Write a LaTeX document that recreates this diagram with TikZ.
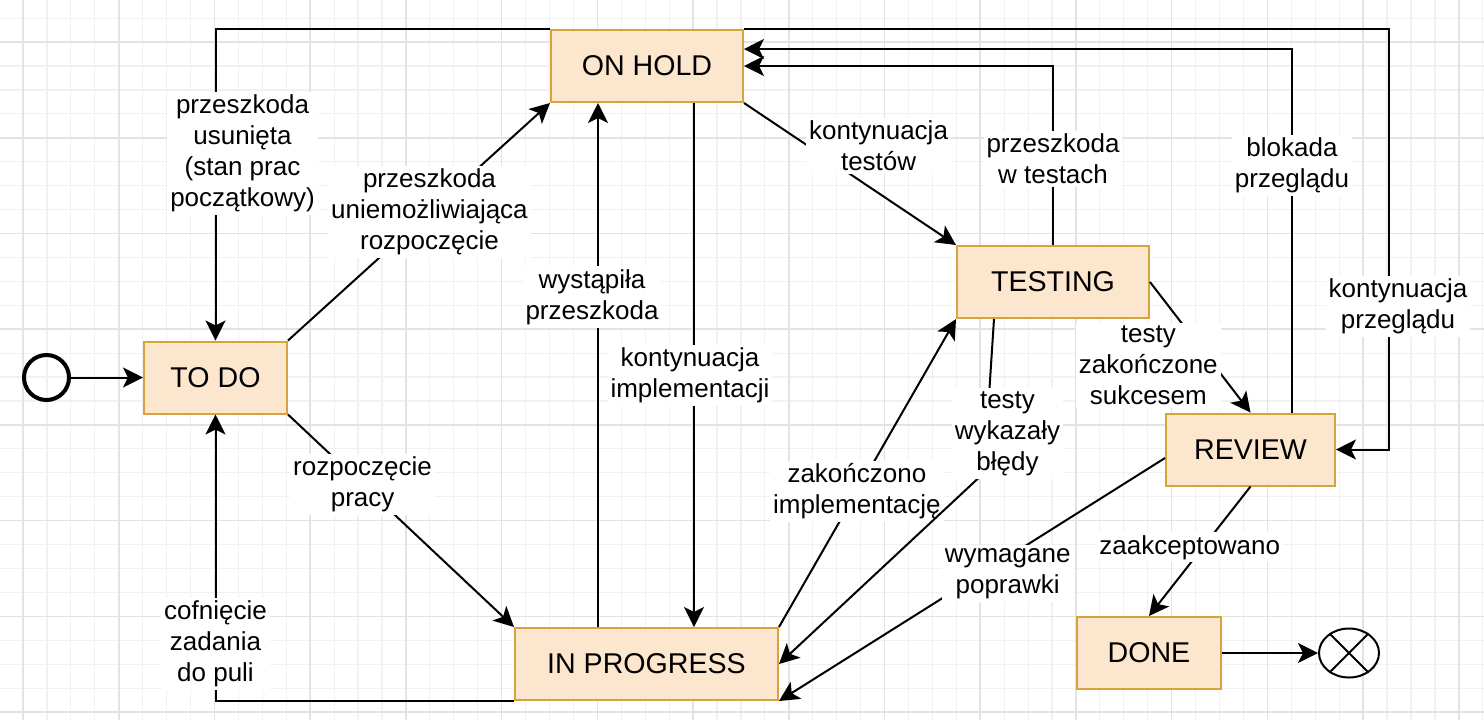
\documentclass[tikz,border=0pt]{standalone}
\usepackage{fontspec}
\setmainfont{Liberation Sans}
\usepackage{xcolor}
\usepackage{tikz}
\usetikzlibrary{arrows.meta, shapes.geometric, positioning, calc}
\definecolor{statefill}{HTML}{FCE6CE}
\definecolor{stateline}{HTML}{D6A33E}
\definecolor{gridminor}{HTML}{F1F1F1}
\definecolor{gridmajor}{HTML}{E3E3E3}

\begin{document}
\begin{tikzpicture}[
    x=0.5pt, y=-0.5pt,
    state/.style={draw=stateline, fill=statefill, line width=1pt, minimum height=36pt, inner sep=0pt, font=\fontsize{14.3}{17}\selectfont},
    initst/.style={draw, circle, line width=2pt, minimum size=22.5pt, inner sep=0pt},
    finalst/.style={draw, ellipse, line width=1pt, minimum width=30pt, minimum height=24.5pt, inner sep=0pt},
    lbl/.style={fill=white, align=center, inner sep=1.5pt, font=\fontsize{13}{15.5}\selectfont},
    arr/.style={-{Stealth[length=10pt, width=10pt, inset=2.5pt]}, line width=1pt},
    minorline/.style={draw=gridminor, line width=0.6pt},
    majorline/.style={draw=gridmajor, line width=0.8pt},
  ]
  \useasboundingbox (0,0) rectangle (1484,720);
  \foreach \i in {0,...,62} \draw[minorline] ({-0.9+23.93*\i},0) -- ++(0,720);
  \foreach \i in {0,...,30} \draw[minorline] (0,{-5.8+23.93*\i}) -- ++(1484,0);
  \foreach \i in {0,...,15} \draw[majorline] ({23+95.72*\i},0) -- ++(0,720);
  \foreach \i in {0,...,7} \draw[majorline] (0,{42+95.72*\i}) -- ++(1484,0);

  \node[state, minimum width=96pt] (onhold) at (647,66) {ON HOLD};
  \node[state, minimum width=71.5pt] (todo) at (215.5,377.5) {TO DO};
  \node[state, minimum width=131.5pt] (inprogress) at (646.5,664) {IN PROGRESS};
  \node[state, minimum width=96pt] (testing) at (1053,282) {TESTING};
  \node[state, minimum width=84.5pt] (review) at (1250.5,449.5) {REVIEW};
  \node[state, minimum width=72pt] (done) at (1149,653) {DONE};
  \node[initst, left=36pt of todo] (init) {};
  \node[finalst, right=48pt of done] (final) {};
  \draw[line width=1pt] (final.45) -- (final.225) (final.135) -- (final.315);

  \draw[arr] (init) -- (todo);
  \draw[arr] (todo.north east) -- node[lbl, pos=0.54] {przeszkoda\\uniemożliwiająca\\rozpoczęcie} (onhold.south west);
  \draw[arr] (onhold.north west) -| node[lbl, pos=0.7, xshift=13.5pt] {przeszkoda\\usunięta\\(stan prac\\początkowy)} (todo.north);
  \draw[arr] (onhold.north east) -- ++(645,0) |- node[lbl, pos=0.33, xshift=4.5pt] {kontynuacja\\przeglądu} (review.east);
  \draw[arr] (testing.north) |- node[lbl, pos=0.24] {przeszkoda\\w testach} (onhold.east);
  \draw[arr] ($(review.north)+(41.5,0)$) |- node[lbl, pos=0.34] {blokada\\przeglądu} ($(onhold.east)+(0,-17)$);
  \draw[arr] (onhold.south east) -- node[lbl, pos=0.3, xshift=35.5pt] {kontynuacja\\testów} (testing.north west);
  \draw[arr] ($(onhold.south)+(47,0)$) -- node[lbl, pos=0.52, xshift=-2pt] {kontynuacja\\implementacji} ($(inprogress.north)+(47.5,0)$);
  \draw[arr] ($(inprogress.north)+(-48.5,0)$) -- node[lbl, pos=0.63, xshift=-3pt] {wystąpiła\\przeszkoda} ($(onhold.south)+(-49,0)$);
  \draw[arr] (todo.south east) -- node[lbl, pos=0.33] {rozpoczęcie\\pracy} (inprogress.north west);
  \draw[arr] (inprogress.south west) -| node[lbl, pos=0.6] {cofnięcie\\zadania\\do puli} (todo.south);
  \draw[arr] (inprogress.north east) -- node[lbl, pos=0.44] {zakończono\\implementację} (testing.south west);
  \draw[arr] ($(testing.south)+(-59,0)$) -- ++(-5,77) -- node[lbl, xshift=10pt] {testy\\wykazały\\błędy} ++(-3,75) -- (inprogress.east);
  \draw[arr] (testing.east) -- node[lbl, pos=0.64, xshift=-33pt] {testy\\zakończone\\sukcesem} (review.north);
  \draw[arr] ($(review.west)+(0,8.5)$) -- node[lbl, pos=0.475, xshift=13pt] {wymagane\\poprawki} (inprogress.south east);
  \draw[arr] (review.south) -- node[lbl, pos=0.47, xshift=-6.5pt] {zaakceptowano} (done.north);
  \draw[arr] (done) -- (final);
\end{tikzpicture}
\end{document}
